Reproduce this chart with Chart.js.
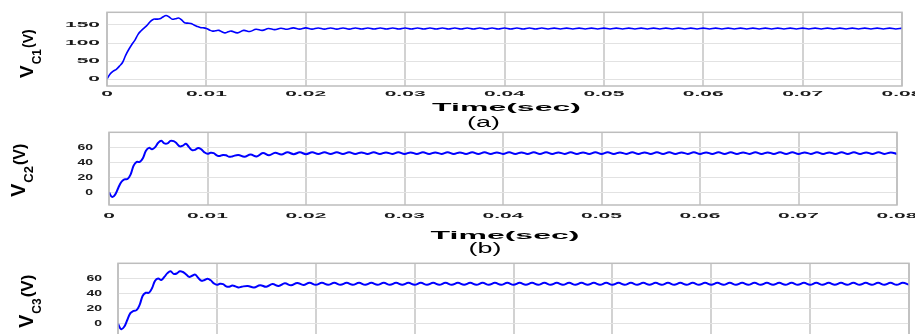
<!DOCTYPE html>
<html>
<head>
<meta charset="utf-8">
<script src="https://cdn.jsdelivr.net/npm/chart.js@4.4.1/dist/chart.umd.min.js"></script>
<style>
  html, body { margin: 0; padding: 0; background: #fff; }
  body { width: 915px; height: 334px; overflow: hidden; position: relative; }
  canvas { position: absolute; left: 0; }
</style>
</head>
<body>
<canvas id="vc1" width="915" height="132" style="top:0px"></canvas>
<canvas id="vc2" width="915" height="133" style="top:125px"></canvas>
<canvas id="vc3" width="915" height="90" style="top:255px"></canvas>
<script>
// time in ms
const timeMs = [
  0, 0.3125, 0.625, 0.9375, 1.25, 1.5625, 1.875, 2.1875, 2.5, 2.8125,
  3.125, 3.4375, 3.75, 4.0625, 4.375, 4.6875, 5, 5.3125, 5.625, 5.9375,
  6.25, 6.5625, 6.875, 7.1875, 7.5, 7.8125, 8.125, 8.4375, 8.75, 9.0625,
  9.375, 9.6875, 10, 10.3125, 10.625, 10.9375, 11.25, 11.5625, 11.875, 12.1875,
  12.5,
  13.125, 13.75, 14.375, 15, 15.625, 16.25, 16.875, 17.5, 18.125, 18.75,
  19.375, 20, 20.625, 21.25, 21.875, 22.5, 23.125, 23.75, 24.375, 25,
  25.625, 26.25, 26.875, 27.5, 28.125, 28.75, 29.375, 30, 30.625, 31.25,
  31.875, 32.5, 33.125, 33.75, 34.375, 35, 35.625, 36.25, 36.875, 37.5,
  38.125, 38.75, 39.375, 40, 40.625, 41.25, 41.875, 42.5, 43.125, 43.75,
  44.375, 45, 45.625, 46.25, 46.875, 47.5, 48.125, 48.75, 49.375, 50,
  50.625, 51.25, 51.875, 52.5, 53.125, 53.75, 54.375, 55, 55.625, 56.25,
  56.875, 57.5, 58.125, 58.75, 59.375, 60, 60.625, 61.25, 61.875, 62.5,
  63.125, 63.75, 64.375, 65, 65.625, 66.25, 66.875, 67.5, 68.125, 68.75,
  69.375, 70, 70.625, 71.25, 71.875, 72.5, 73.125, 73.75, 74.375, 75,
  75.625, 76.25, 76.875, 77.5, 78.125, 78.75, 79.375, 80
];

const vc1 = [
  0, 14, 22, 27, 36, 46, 66, 82, 96, 108,
  124, 134, 142, 150, 160, 166, 166, 167, 172, 176,
  172, 166, 167, 169, 164, 156, 155, 154, 150, 146,
  143, 142, 140, 136, 133, 134, 135, 131, 128, 131,
  133,
  128, 135, 132, 138, 135, 140, 137, 141, 138, 142,
  138.5, 142, 138.5, 141.5, 138.5, 141.5, 138.5, 141.5, 138.5, 141.5,
  138.6, 141.4, 138.6, 141.4, 138.6, 141.4, 138.6, 141.4, 138.6, 141.4,
  138.6, 141.4, 138.6, 141.4, 138.6, 141.4, 138.6, 141.4, 138.6, 141.4,
  138.6, 141.4, 138.6, 141.4, 138.6, 141.4, 138.6, 141.4, 138.6, 141.4,
  138.8, 141.2, 138.8, 141.2, 138.8, 141.2, 138.8, 141.2, 138.8, 141.2,
  138.8, 141.2, 138.8, 141.2, 138.8, 141.2, 138.8, 141.2, 138.8, 141.2,
  138.8, 141.2, 138.8, 141.2, 138.8, 141.2, 138.8, 141.2, 138.8, 141.2,
  138.8, 141.2, 138.8, 141.2, 138.8, 141.2, 138.8, 141.2, 138.8, 141.2,
  138.8, 141.2, 138.8, 141.2, 138.8, 141.2, 138.8, 141.2, 138.8, 141.2,
  138.8, 141.2, 138.8, 141.2, 138.8, 141.2, 138.8, 141.2
];

const vc2 = [
  0, -6, -3, 6, 14, 17.5, 18, 24, 36, 41,
  41, 46, 56, 60, 58, 61, 67, 69.5, 66, 66,
  69.5, 69, 66, 62, 63, 65.5, 61, 57, 57.5, 60,
  58, 54, 52, 53.5, 53, 50, 49, 50.5, 50, 48,
  48.5,
  50.5, 48, 51, 48.5, 53, 50, 53.5, 51, 54, 51.5,
  54, 51.5, 54, 51.8, 54, 51.8, 54, 51.8, 54, 51.8,
  53.9, 51.8, 54, 51.8, 53.9, 51.9, 54, 51.8, 53.9, 51.8,
  54, 51.8, 53.9, 51.9, 54, 51.8, 53.9, 51.8, 54, 51.9,
  54, 51.8, 53.9, 51.9, 54, 51.8, 53.9, 51.8, 54, 51.9,
  54, 51.8, 53.9, 51.9, 54, 51.8, 53.9, 51.8, 54, 51.9,
  54, 51.8, 53.9, 51.9, 54, 51.8, 53.9, 51.8, 54, 51.9,
  54, 51.8, 53.9, 51.9, 54, 51.8, 53.9, 51.8, 54, 51.9,
  54, 51.8, 53.9, 51.9, 54, 51.8, 53.9, 51.8, 54, 51.9,
  54, 51.8, 53.9, 51.9, 54, 51.8, 53.9, 51.8, 54, 51.9,
  54, 51.8, 53.9, 51.8, 54, 51.9, 53.9, 51.8
];

const vc3 = [
  0, -7, -4, 5, 14, 17, 18, 25, 37, 41,
  41, 47, 57, 60, 58, 62, 67, 69.5, 66, 66.5,
  69.5, 68.5, 65.5, 62, 63.5, 65, 60.5, 57, 58, 59.5,
  57.5, 53.5, 51.5, 53, 52.5, 49.5, 49, 50.5, 49.5, 48,
  49,
  50, 48, 51, 49, 52.5, 50, 53.5, 51, 54, 51.3,
  54.2, 51.5, 54.1, 51.6, 54.2, 51.6, 54.1, 51.6, 54.2, 51.6,
  54.1, 51.6, 54.2, 51.6, 54.1, 51.7, 54.1, 51.6, 54.2, 51.6,
  54.1, 51.6, 54.2, 51.6, 54.1, 51.7, 54.1, 51.6, 54.2, 51.6,
  54.1, 51.6, 54.2, 51.6, 54.1, 51.7, 54.1, 51.6, 54.2, 51.6,
  54.1, 51.6, 54.2, 51.6, 54.1, 51.7, 54.1, 51.6, 54.2, 51.6,
  54.1, 51.6, 54.2, 51.6, 54.1, 51.7, 54.1, 51.6, 54.2, 51.6,
  54.1, 51.6, 54.2, 51.6, 54.1, 51.7, 54.1, 51.6, 54.2, 51.6,
  54.1, 51.6, 54.2, 51.6, 54.1, 51.7, 54.1, 51.6, 54.2, 51.6,
  54.1, 51.6, 54.2, 51.6, 54.1, 51.7, 54.1, 51.6, 54.2, 51.6,
  54.1, 51.6, 54.2, 51.6, 54.1, 51.6, 54.1, 51.6
];

const xTicks = [0, 10, 20, 30, 40, 50, 60, 70, 80];
const xTickLabels = ['0', '0.01', '0.02', '0.03', '0.04', '0.05', '0.06', '0.07', '0.08'];
const yTicksC1 = [0, 50, 100, 150];
const yTicksC23 = [0, 20, 40, 60];

const FONT = '"Liberation Sans", Arial, Helvetica, sans-serif';
const TXT = '#1a1a1a';

// the source figure is squashed vertically, so text is drawn with a y scale
function squeezedText(ctx, text, x, y, size, sq, align, weight) {
    ctx.save();
    ctx.translate(x, y);
    ctx.scale(1, sq);
    ctx.font = `${weight} ${size}px ${FONT}`;
    ctx.textAlign = align;
    ctx.textBaseline = 'middle';
    ctx.fillText(text, 0, 0);
    ctx.restore();
}

function framePlugin(c) {
    return {
        id: 'frame',
        afterDraw(chart) {
            const { ctx, chartArea: a, scales } = chart;
            ctx.save();
            ctx.strokeStyle = '#bdbdbd';
            ctx.lineWidth = 1.5;
            ctx.strokeRect(a.left, a.top, a.right - a.left, a.bottom - a.top);

            ctx.fillStyle = TXT;
            if (c.xlab !== null) {
                xTicks.forEach((v, i) => {
                    squeezedText(ctx, xTickLabels[i], scales.x.getPixelForValue(v), a.bottom + c.xlab, 21, 0.35, 'center', 'bold');
                });
            }
            c.yticks.forEach((v) => {
                squeezedText(ctx, String(v), a.left - c.ypad, scales.y.getPixelForValue(v), c.yfont, c.ysq, 'right', 'bold');
            });

            ctx.fillStyle = '#000';
            if (c.title) {
                squeezedText(ctx, 'Time(sec)', (a.left + a.right) / 2 + 2, c.title, 32, 0.33, 'center', 'bold');
            }
            if (c.tag) {
                squeezedText(ctx, c.tag.text, c.tag.x, c.tag.y, 27, 0.52, 'center', 'normal');
            }

            // rotated y label V_Cn(V)
            const l = c.ylabel;
            ctx.translate(l.x, l.y);
            ctx.rotate(-Math.PI / 2);
            ctx.textAlign = 'left';
            ctx.textBaseline = 'alphabetic';
            ctx.font = `bold ${l.big}px ${FONT}`;
            ctx.fillText('V', 0, 0);
            let w = ctx.measureText('V').width;
            ctx.font = `bold ${l.sub}px ${FONT}`;
            ctx.fillText(l.idx, w + 1, 8);
            w += ctx.measureText(l.idx).width + 2;
            ctx.font = `bold ${l.unit}px ${FONT}`;
            ctx.fillText('(V)', w, 0);
            ctx.restore();
        },
    };
}

function makeChart(id, values, c) {
    return new Chart(document.getElementById(id), {
        type: 'line',
        data: {
            datasets: [{
                data: timeMs.map((t, i) => ({ x: t, y: values[i] })),
                borderColor: '#0000ff',
                borderWidth: c.lw,
                pointRadius: 0,
                tension: 0.4,
                fill: false,
            }],
        },
        options: {
            responsive: false,
            animation: false,
            devicePixelRatio: 1,
            events: [],
            layout: { padding: { left: 0, right: c.right, top: c.top, bottom: 0 } },
            plugins: {
                legend: { display: false },
                tooltip: { enabled: false },
            },
            scales: {
                x: {
                    type: 'linear',
                    min: 0,
                    max: 80,
                    afterBuildTicks: (s) => { s.ticks = xTicks.map((v) => ({ value: v })); },
                    afterFit: (s) => { s.height = c.xh; s.paddingLeft = 0; s.paddingRight = 0; },
                    ticks: { display: false },
                    grid: { color: '#d2d2d2', lineWidth: 2, drawTicks: false },
                    border: { display: false },
                },
                y: {
                    min: c.ymin,
                    max: c.ymax,
                    afterBuildTicks: (s) => { s.ticks = c.yticks.map((v) => ({ value: v })); },
                    afterFit: (s) => { s.width = c.left; s.paddingTop = 0; s.paddingBottom = 0; },
                    ticks: { display: false },
                    grid: { color: '#e2e2e2', lineWidth: 1, drawTicks: false },
                    border: { display: false },
                },
            },
        },
        plugins: [framePlugin(c)],
    });
}

makeChart('vc1', vc1, {
    top: 12.3, right: 13, left: 107, xh: 46, lw: 1.6,
    ymin: -19, ymax: 185, yticks: yTicksC1, yfont: 21, ysq: 0.35, ypad: 7,
    xlab: 7.7, title: 108.3,
    ylabel: { x: 33, y: 78, big: 19, sub: 12, unit: 14, idx: 'C1' },
    tag: { text: '(a)', x: 483.5, y: 123.3 },
});
makeChart('vc2', vc2, {
    top: 7.3, right: 18, left: 109, xh: 53, lw: 2,
    ymin: -17, ymax: 81, yticks: yTicksC23, yfont: 14, ysq: 0.6, ypad: 16,
    xlab: 10.5, title: 111.5,
    ylabel: { x: 25, y: 72, big: 20, sub: 13, unit: 16, idx: 'C2' },
    tag: { text: '(b)', x: 485, y: 124 },
});
makeChart('vc3', vc3, {
    top: 8.3, right: 6, left: 118, xh: 8.4, lw: 2,
    ymin: -17, ymax: 80, yticks: yTicksC23, yfont: 14, ysq: 0.6, ypad: 16,
    xlab: null, title: null,
    ylabel: { x: 32.5, y: 73, big: 20, sub: 12, unit: 17, idx: 'C3' },
    tag: null,
});
</script>
</body>
</html>
